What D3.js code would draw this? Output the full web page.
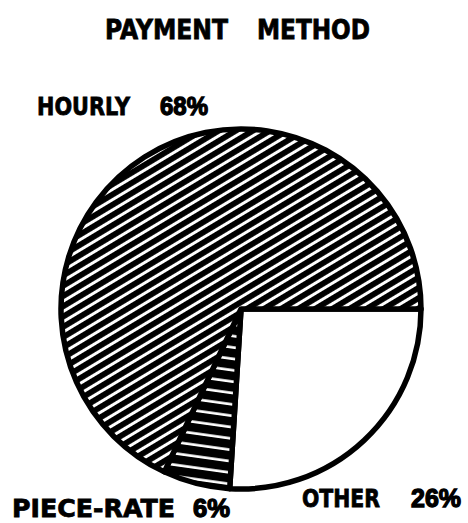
<!DOCTYPE html>
<html>
<head>
<meta charset="utf-8">
<script src="https://cdn.jsdelivr.net/npm/d3@7"></script>
<style>
  html, body { margin: 0; padding: 0; background: #fff; }
  svg { display: block; }
  text { font-family: "DejaVu Sans", "Liberation Sans", Arial, sans-serif; font-weight: bold; fill: #000; stroke: #000; stroke-width: 0.8; }
  text.pct { font-family: "Liberation Sans", Arial, sans-serif; stroke-width: 1.3; }
</style>
</head>
<body>
<svg id="chart" width="468" height="523"></svg>
<script>
// ---- data ----
const categories = ["OTHER", "PIECE-RATE", "HOURLY"];
const shares = [26, 6, 68];
const shareLabels = ["26%", "6%", "68%"];
const title = ["PAYMENT", "METHOD"];

const svg = d3.select("#chart");
const cx = 241, cy = 309, R = 180;

const defs = svg.append("defs");
// diagonal hatch for HOURLY
const p1 = defs.append("pattern")
  .attr("id", "diag").attr("patternUnits", "userSpaceOnUse")
  .attr("width", 20).attr("height", 8.8)
  .attr("patternTransform", "rotate(-31)");
p1.append("rect").attr("width", 20).attr("height", 8.8).attr("fill", "#fff");
p1.append("rect").attr("y", 0).attr("width", 20).attr("height", 5.8).attr("fill", "#000");

// near-horizontal hatch for PIECE-RATE (white lines on black)
const p2 = defs.append("pattern")
  .attr("id", "horiz").attr("patternUnits", "userSpaceOnUse")
  .attr("width", 30).attr("height", 11.3)
  .attr("patternTransform", "rotate(8)");
p2.append("rect").attr("width", 30).attr("height", 11.3).attr("fill", "#000");
p2.append("rect").attr("y", 4).attr("width", 30).attr("height", 2.6).attr("fill", "#fff");

const fills = { "OTHER": "#fff", "PIECE-RATE": "url(#horiz)", "HOURLY": "url(#diag)" };

const data = categories.map((c, i) => ({ cat: c, value: shares[i], label: shareLabels[i] }));
const pie = d3.pie().sort(null).value(d => d.value)
  .startAngle(Math.PI / 2).endAngle(Math.PI / 2 + 2 * Math.PI);
const arc = d3.arc().innerRadius(0).outerRadius(R);

const g = svg.append("g").attr("transform", `translate(${cx},${cy})`);
g.selectAll("path").data(pie(data)).join("path")
  .attr("d", arc)
  .attr("fill", d => fills[d.data.cat])
  .attr("stroke", "#000")
  .attr("stroke-width", 5.5)
  .attr("stroke-linejoin", "round");

// title
svg.append("text").attr("x", 105).attr("y", 39).attr("font-size", 27)
  .attr("textLength", 123).attr("lengthAdjust", "spacingAndGlyphs").text(title[0]);
svg.append("text").attr("x", 257).attr("y", 39).attr("font-size", 27)
  .attr("textLength", 113).attr("lengthAdjust", "spacingAndGlyphs").text(title[1]);

// labels: [name x, name width, pct x (start), pct width, baseline]
const labelPos = {
  "HOURLY": [37, 93, 160, 48, 115],
  "PIECE-RATE": [12, 163, 193, 37, 517],
  "OTHER": [302, 78, 411, 50, 507]
};
data.forEach(d => {
  const p = labelPos[d.cat];
  svg.append("text").attr("x", p[0]).attr("y", p[4]).attr("font-size", 25)
    .attr("textLength", p[1]).attr("lengthAdjust", "spacingAndGlyphs").text(d.cat);
  svg.append("text").attr("class", "pct").attr("x", p[2] + p[3]).attr("y", p[4]).attr("font-size", 25)
    .attr("text-anchor", "end")
    .attr("textLength", p[3]).attr("lengthAdjust", "spacingAndGlyphs").text(d.label);
});
</script>
</body>
</html>
